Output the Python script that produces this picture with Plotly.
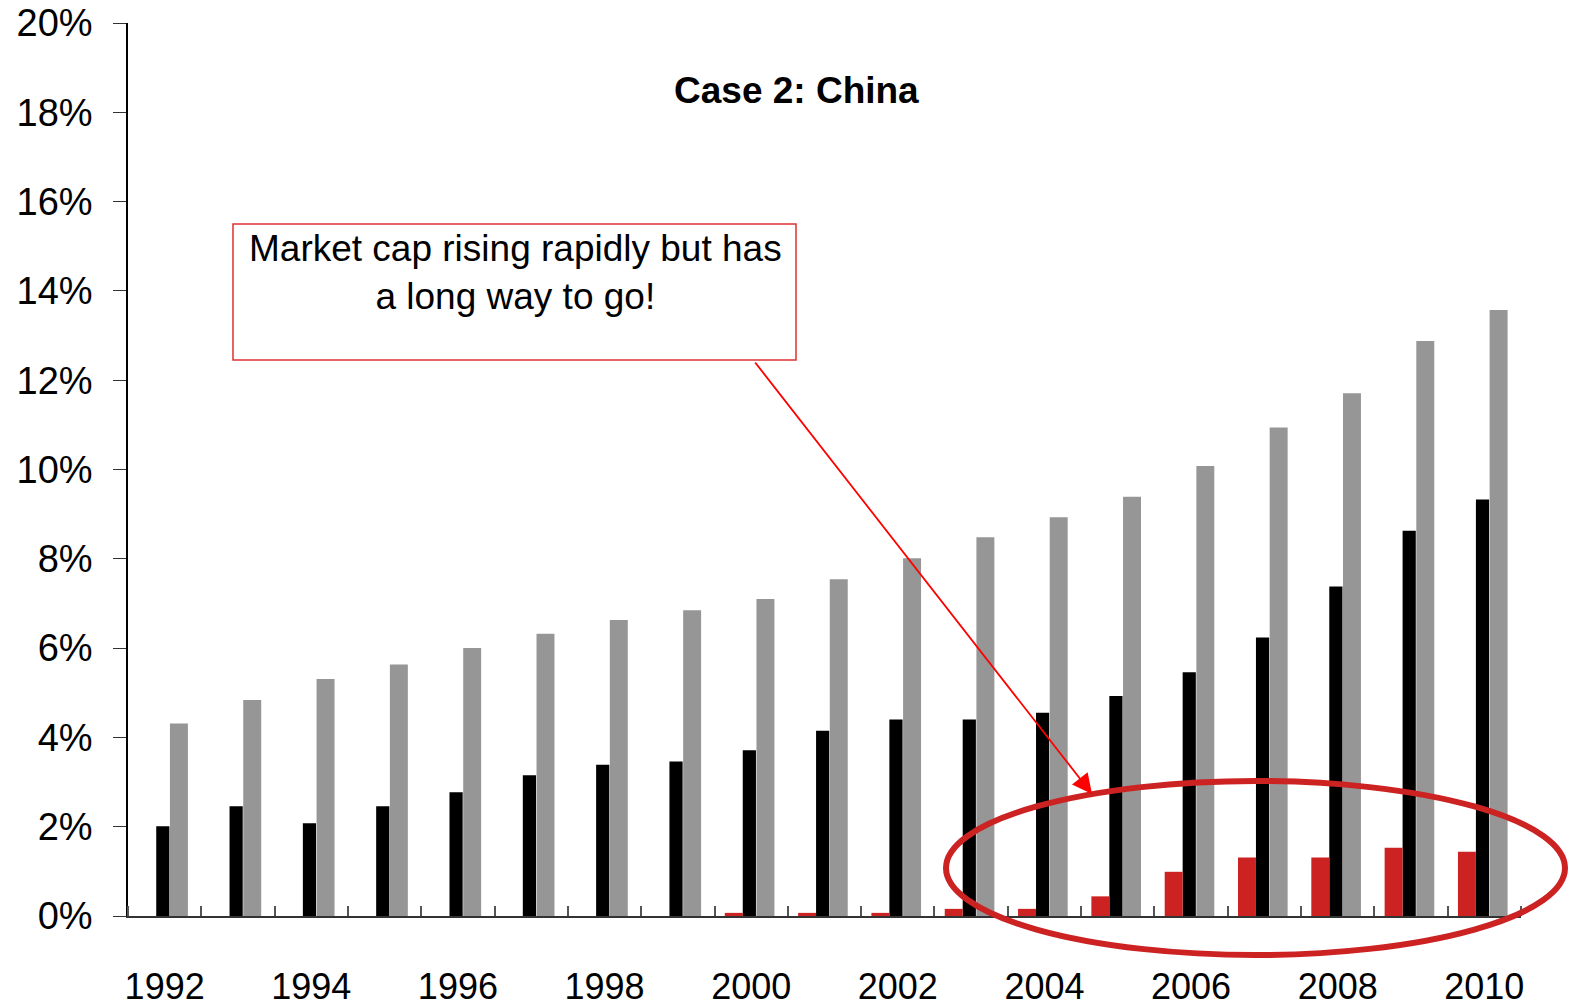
import plotly.graph_objects as go

# Years on the category axis
years = list(range(1992, 2011))
label_years = list(range(1992, 2011, 2))

# Series values, percent
red_vals = [0, 0, 0, 0, 0, 0, 0, 0, 0.07, 0.07, 0.07, 0.16, 0.16, 0.44, 0.99, 1.31, 1.31, 1.53, 1.44]
black_vals = [2.01, 2.46, 2.08, 2.46, 2.77, 3.15, 3.39, 3.46, 3.71, 4.15, 4.40, 4.40, 4.55, 4.93, 5.46, 6.24, 7.38, 8.63, 9.33]
gray_vals = [4.31, 4.84, 5.31, 5.63, 6.00, 6.32, 6.63, 6.85, 7.10, 7.54, 8.01, 8.48, 8.93, 9.39, 10.08, 10.94, 11.71, 12.88, 13.57]

y_ticks = list(range(0, 21, 2))
y_tick_text = [f"{v}%" for v in y_ticks]

W, H = 1572, 1008
L, R, T, B = 128, 51, 23, 92
PW, PH = W - L - R, H - T - B


def px(x):
    return (x - L) / PW


def py(y):
    return (H - B - y) / PH


fig = go.Figure()
fig.add_trace(go.Bar(x=years, y=black_vals, width=0.18, offset=-0.115,
                     marker=dict(color="#000000", line=dict(width=0)), name="black"))
fig.add_trace(go.Bar(x=years, y=red_vals, width=0.245, offset=-0.36,
                     marker=dict(color="#CC2222", line=dict(width=0)), name="red"))
fig.add_trace(go.Bar(x=years, y=gray_vals, width=0.245, offset=0.072,
                     marker=dict(color="#969696", line=dict(width=0)), name="gray"))

fig.update_layout(
    width=W, height=H,
    margin=dict(l=L, r=R, t=T, b=B),
    paper_bgcolor="white", plot_bgcolor="white",
    barmode="overlay", showlegend=False,
    font=dict(family="Liberation Sans, Arial, sans-serif", color="black"),
)

fig.update_xaxes(
    range=[1991.5, 2010.5], automargin=False,
    tickvals=label_years, ticktext=[str(y) for y in label_years],
    ticks="", tickfont=dict(size=36), ticklabelstandoff=38,
    showline=True, linecolor="#333333", linewidth=1.5,
    showgrid=False, zeroline=False,
    minor=dict(tick0=1991.5, dtick=1, ticks="inside", ticklen=10,
               tickcolor="#555555", tickwidth=1.5, showgrid=False),
)
fig.update_yaxes(
    range=[0, 20], automargin=False, ticklabeloverflow="allow",
    tickvals=y_ticks, ticktext=y_tick_text,
    ticks="outside", ticklen=13, tickcolor="#333333", tickwidth=1,
    tickfont=dict(size=38), ticklabelstandoff=13,
    showline=True, linecolor="#000000", linewidth=1.5,
    showgrid=False, zeroline=False,
)

# Title inside the plot area
fig.add_annotation(text="<b>Case 2: China</b>", xref="paper", yref="paper",
                   x=px(796), y=py(90), showarrow=False,
                   font=dict(size=37, color="black"), xanchor="center", yanchor="middle")

# Callout box and its text
fig.add_shape(type="rect", xref="paper", yref="paper",
              x0=px(233), x1=px(796), y0=py(360), y1=py(224),
              line=dict(color="#E03030", width=1.5), fillcolor="white", layer="above")
fig.add_annotation(text="Market cap rising rapidly but has<br>a long way to go!",
                   xref="paper", yref="paper", x=px(515), y=py(226),
                   showarrow=False, xanchor="center", yanchor="top", align="center",
                   font=dict(size=37, color="black"))

# Arrow from callout to the highlighted region
fig.add_annotation(xref="paper", yref="paper", x=px(1092), y=py(794),
                   ax=754 - 1092, ay=361 - 794, axref="pixel", ayref="pixel",
                   text="", showarrow=True, arrowhead=2, arrowsize=2.2,
                   arrowwidth=1.8, arrowcolor="#FF0000")

# Ellipse around the recent years
fig.add_shape(type="circle", xref="paper", yref="paper",
              x0=px(946), x1=px(1565), y0=py(955), y1=py(781),
              line=dict(color="#CC2222", width=6), layer="above")

fig.write_html("out.html")
